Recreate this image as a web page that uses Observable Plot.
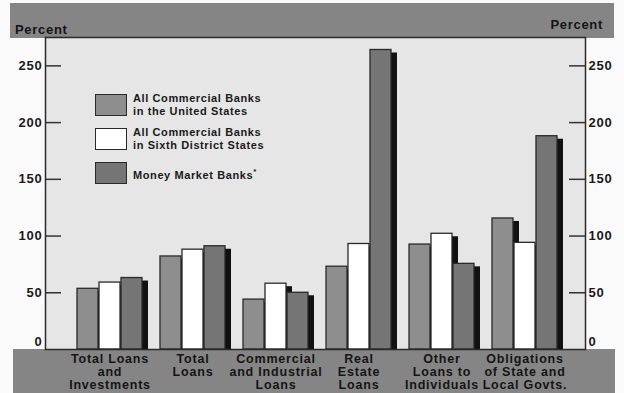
<!DOCTYPE html>
<html>
<head>
<meta charset="utf-8">
<script src="https://cdn.jsdelivr.net/npm/d3@7"></script>
<script src="https://cdn.jsdelivr.net/npm/@observablehq/plot@0.6"></script>
<style>
  body { margin: 0; background: #fafafa; }
  #wrap { position: relative; width: 624px; height: 393px; background: #fafafa; font-family: "Liberation Sans", Arial, sans-serif; overflow: hidden; }
  .band { position: absolute; background: #858585; }
  .pct { position: absolute; font-weight: bold; font-size: 13px; letter-spacing: 0.7px; color: #151515; }
  #legend { position: absolute; left: 95px; top: 94px; }
  .lg { display: flex; align-items: center; height: 22px; margin-bottom: 12px; }
  .sw { width: 30px; height: 20px; border: 1.5px solid #2a2a2a; flex: none; }
  .lt { margin-left: 6px; font-weight: bold; font-size: 11px; line-height: 13px; letter-spacing: 0.6px; color: #1a1a1a; }
  svg { position: absolute; left: 0; top: 0; }
  svg [aria-label="x-axis tick label"] text { letter-spacing: 0.8px; }
  svg [aria-label="y-axis tick label"] text { letter-spacing: 0.8px; }
</style>
</head>
<body>
<div id="wrap">
  <div class="band" style="left:10px; top:3px; width:604px; height:35px;"></div>
  <div class="band" style="left:13px; top:349px; width:602px; height:44px;"></div>
  <div class="pct" style="left:15px; top:22px;">Percent</div>
  <div class="pct" style="right:21px; top:17px;">Percent</div>
  <div id="chart"></div>
  <div id="legend"></div>
</div>
<script>
const categories = ["TLI", "TL", "CIL", "REL", "OLI", "OSL"];
const categoryLabels = [
  "Total Loans\nand\nInvestments",
  "Total\nLoans",
  "Commercial\nand Industrial\nLoans",
  "Real\nEstate\nLoans",
  "Other\nLoans to\nIndividuals",
  "Obligations\nof State and\nLocal Govts."
];
const seriesNames = [
  "All Commercial Banks\nin the United States",
  "All Commercial Banks\nin Sixth District States",
  "Money Market Banks*"
];
const usValues = [53.5, 82, 44, 73, 92.5, 115.5];
const sixthValues = [59, 88, 58, 93, 102, 94];
const moneyValues = [63, 91, 50, 264, 75.5, 188];
const yTicks = [0, 50, 100, 150, 200, 250];
const seriesColors = ["#8e8e8e", "#ffffff", "#757575"];

const allValues = [usValues, sixthValues, moneyValues];
const W = 624, H = 393, mL = 45, mR = 39, mT = 37, mB = 44;
const plotW = W - mL - mR;
const xRange = [74.5, 559.5];
const padIn = 0.2124;
const step = (xRange[1] - xRange[0]) / (categories.length - padIn);
const bw = step * (1 - padIn);
const third = bw / 3;

const marks = [Plot.frame({fill: "#e6e6e6"})];
allValues.forEach((vals, i) => {
  const data = categories.map((c, j) => ({c, v: vals[j]}));
  const ins = {insetLeft: third * i, insetRight: third * (2 - i)};
  marks.push(Plot.barY(data, {x: "c", y: "v", fill: "#111", dx: 6, dy: 3, insetBottom: 3, ...ins}));
  marks.push(Plot.barY(data, {x: "c", y: "v", fill: seriesColors[i], stroke: "#2a2a2a", strokeWidth: 1.3, ...ins}));
});
const inner = yTicks.filter(d => d > 0);
marks.push(Plot.tickY(inner, {y: d => d, insetRight: plotW - 16, stroke: "#333", strokeWidth: 1.5}));
marks.push(Plot.tickY(inner, {y: d => d, insetLeft: plotW - 16, stroke: "#333", strokeWidth: 1.5}));
marks.push(Plot.frame({stroke: "#2a2a2a", strokeWidth: 1.5}));
const axisStyle = {tickSize: 0, fontSize: 13, fontWeight: "bold", fill: "#1a1a1a", tickPadding: 3, label: null};
marks.push(Plot.axisY(inner, {anchor: "left", ...axisStyle}));
marks.push(Plot.axisY(inner, {anchor: "right", ...axisStyle}));
marks.push(Plot.axisY([0], {anchor: "left", dy: -8, ...axisStyle}));
marks.push(Plot.axisY([0], {anchor: "right", dy: -8, ...axisStyle}));
marks.push(Plot.axisX({anchor: "bottom", tickSize: 0, tickPadding: 4, fontSize: 12.5, fontWeight: "bold", fill: "#151515", lineHeight: 1.05, label: null,
  tickFormat: d => categoryLabels[categories.indexOf(d)]}));

const chart = Plot.plot({
  width: W, height: H,
  marginLeft: mL, marginRight: mR, marginTop: mT, marginBottom: mB,
  style: {background: "transparent", fontFamily: "Liberation Sans, Arial, sans-serif"},
  x: {domain: categories, range: xRange, paddingInner: padIn, paddingOuter: 0, axis: null},
  y: {domain: [0, 275], axis: null},
  marks
});
document.getElementById("chart").appendChild(chart);

const legend = document.getElementById("legend");
seriesNames.forEach((name, i) => {
  const row = document.createElement("div");
  row.className = "lg";
  const sw = document.createElement("div");
  sw.className = "sw";
  sw.style.background = seriesColors[i];
  const t = document.createElement("div");
  t.className = "lt";
  const parts = name.split("\n");
  parts.forEach((p, k) => {
    if (k) t.appendChild(document.createElement("br"));
    if (p.endsWith("*")) {
      t.appendChild(document.createTextNode(p.slice(0, -1)));
      const s = document.createElement("sup");
      s.textContent = "*";
      s.style.fontSize = "8px";
      t.appendChild(s);
    } else {
      t.appendChild(document.createTextNode(p));
    }
  });
  row.appendChild(sw);
  row.appendChild(t);
  legend.appendChild(row);
});
</script>
</body>
</html>
